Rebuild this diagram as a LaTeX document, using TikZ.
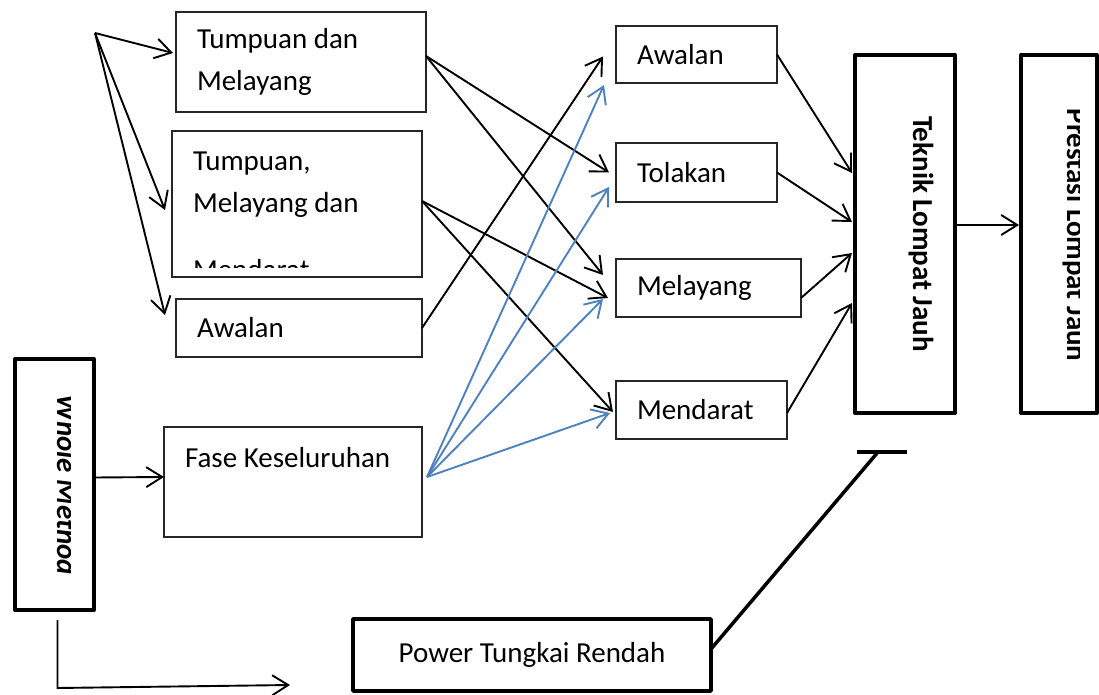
\documentclass[tikz,border=0pt]{standalone}
\usepackage{fontspec}
\setmainfont{Carlito}
\usetikzlibrary{arrows.meta}
\definecolor{wordblue}{RGB}{79,129,189}

\begin{document}
\begin{tikzpicture}[x=1pt,y=-1pt,line width=1.9pt,
		every node/.style={font=\fontsize{29}{42}\selectfont,outer sep=0pt},
		box/.style={draw=black!85,line width=1.4pt,anchor=north west,align=flush left,inner xsep=21pt,inner ysep=0pt},
		heavy/.style={draw,line width=4pt,line join=round,anchor=north west,inner sep=0pt},
		side/.style={rotate=-90,anchor=base,inner sep=0pt},
		go/.style={-{Straight Barb[length=16pt,width=20pt]}},
		bluego/.style={go,draw=wordblue}
		]
	\useasboundingbox (0,0) rectangle (1099,695);

	% left column
	\node [box,text width=208pt,minimum height=100pt] (td) at (176,12) {Tumpuan dan\\Melayang};
	\node [box,minimum width=250pt,minimum height=146pt] (tmm) at (172,131) {};
	\begin{scope}
		\clip (172,131) rectangle (422,267);
		\node [anchor=north west,align=left,inner sep=0pt] (tmmtxt) at (193,152) {Tumpuan,\\Melayang dan\\[25pt]Mendarat};
	\end{scope}
	\node [box,text width=204pt,minimum height=58pt] (awl) at (176,299) {Awalan};
	\node [box,text width=216pt,minimum height=110pt,text height=20pt,text depth=50pt] (fase) at (164,427) {Fase Keseluruhan};
	\coordinate (fan) at (95,33);

	\node [heavy,minimum width=79pt,minimum height=251pt] (wm) at (15,359) {};
	\begin{scope}
		\clip (15,359) rectangle (70,610);
		\node [side,font=\fontsize{29}{42}\selectfont\bfseries\itshape] (wmtxt) at (57,485) {Whole Method};
	\end{scope}
	\coordinate (wmend) at (290,685);

	% phases
	\node [box,text width=119pt,minimum height=57pt] (awr) at (616,26) {Awalan};
	\node [box,text width=119pt,minimum height=59pt] (tol) at (616,143) {Tolakan};
	\node [box,text width=143pt,minimum height=58pt] (mel) at (616,259) {Melayang};
	\node [box,text width=129pt,minimum height=58pt] (men) at (616,381) {Mendarat};

	% right column
	\node [heavy,minimum width=100pt,minimum height=358pt] (tlj) at (855,55) {};
	\node [side,font=\fontsize{29}{42}\selectfont\bfseries] (tljtxt) at (913,234) {Teknik Lompat Jauh};
	\node [heavy,minimum width=76pt,minimum height=358pt] (plj) at (1021,55) {};
	\begin{scope}
		\clip (1023,57) rectangle (1079,411);
		\node [side,font=\fontsize{29}{42}\selectfont\bfseries] (pljtxt) at (1067,235) {Prestasi Lompat Jauh};
	\end{scope}

	\node [heavy,line width=3.5pt,minimum width=358pt,minimum height=72pt] (pow) at (353,619) {Power Tungkai Rendah};
	\coordinate (tbar) at (878,452);

	% connectors
	\draw [go] (fan) -- ([xshift=-3pt,yshift=9pt]td.west);
	\draw [go] (fan) -- ([xshift=-7pt,yshift=-6pt]tmm.west);
	\draw [go] (fan) -- ([xshift=-11pt,yshift=13pt]awl.west);

	\draw [go] ([yshift=6pt]td.east) -- ([xshift=-7pt]tol.west);
	\draw [go] ([yshift=6pt]td.east) -- ([xshift=-13pt,yshift=13pt]mel.west);
	\draw [go] ([yshift=3pt]tmm.east) -- ([xshift=-8pt,yshift=-10pt]mel.west);
	\draw [go] ([yshift=3pt]tmm.east) -- ([xshift=-3pt,yshift=-2pt]men.west);
	\draw [go] (awl.east) -- ([xshift=-13pt,yshift=-2pt]awr.west);

	\draw [bluego] ([xshift=5pt,yshift=5pt]fase.east) -- ([xshift=-12pt,yshift=-2pt]awr.south west);
	\draw [bluego] ([xshift=5pt,yshift=5pt]fase.east) -- ([xshift=-7pt,yshift=15pt]tol.south west);
	\draw [bluego] ([xshift=5pt,yshift=5pt]fase.east) -- ([xshift=-13pt,yshift=-11pt]mel.west);
	\draw [bluego] ([xshift=5pt,yshift=5pt]fase.east) -- ([xshift=-6pt,yshift=-3pt]men.west);

	\draw [go] (awr.east) -- ([xshift=-3pt,yshift=61pt]tlj.west);
	\draw [go] (tol.east) -- ([xshift=-3pt,yshift=12pt]tlj.west);
	\draw [go] ([yshift=-10pt]mel.east) -- ([xshift=-3pt,yshift=-19pt]tlj.west);
	\draw [go] ([yshift=-3pt]men.east) -- ([xshift=-3pt,yshift=-69pt]tlj.west);
	\draw [go] ([yshift=9pt]tlj.east) -- ([xshift=-2pt,yshift=9pt]plj.west);

	\draw [go] ([yshift=7pt]wm.east) -- ([yshift=5pt]fase.west);
	\draw [go] ([xshift=3pt,yshift=-10pt]wm.south) -- ++(0,68) -- (wmend);

	\draw [line width=3.5pt] ([yshift=6pt]pow.east) -- (tbar);
	\draw [line width=3.5pt] ([xshift=-21pt]tbar) -- ([xshift=29pt]tbar);
\end{tikzpicture}
\end{document}
